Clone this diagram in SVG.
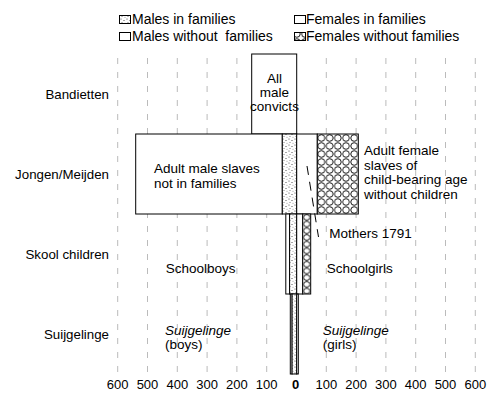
<svg xmlns="http://www.w3.org/2000/svg" width="490" height="396" viewBox="0 0 490 396">
<defs>
  <pattern id="dots" width="6" height="6" patternUnits="userSpaceOnUse">
    <rect width="6" height="6" fill="#fff"/>
    <circle cx="1" cy="1" r="0.55" fill="#333"/>
    <circle cx="4" cy="2.5" r="0.55" fill="#333"/>
    <circle cx="2" cy="4.5" r="0.5" fill="#555"/>
    <circle cx="5" cy="5.3" r="0.45" fill="#555"/>
  </pattern>
  <pattern id="circles" x="317.3" y="134" width="8.2" height="8" patternUnits="userSpaceOnUse">
    <rect width="8.2" height="8" fill="#fff"/>
    <ellipse cx="4.1" cy="4" rx="3.4" ry="3.3" fill="none" stroke="#000" stroke-width="0.9"/>
  </pattern>
  <pattern id="circlesSmall" x="302.7" y="214" width="8" height="6.7" patternUnits="userSpaceOnUse">
    <rect width="8" height="6.7" fill="#fff"/>
    <ellipse cx="4" cy="3.35" rx="3.2" ry="2.8" fill="none" stroke="#000" stroke-width="0.9"/>
  </pattern>
</defs>
<style>
  text { font-family: "Liberation Sans", Arial, sans-serif; fill: #000; }
  .leg { font-size: 14px; }
  .row { font-size: 13.3px; text-anchor: end; }
  .lbl { font-size: 13.5px; }
  .tick { font-size: 13px; text-anchor: middle; }
  .grid line { stroke: #bbb; stroke-width: 1; stroke-dasharray: 6 8; }
  .box { stroke: #000; stroke-width: 1; }
  .white { fill: #fff; }
</style>
<rect width="490" height="396" fill="#fff"/>

<g id="legend">
  <rect class="box" x="119.5" y="15.5" width="11" height="8" fill="url(#dots)"/>
  <text class="leg" x="132" y="24">Males in families</text>
  <rect class="box white" x="119.5" y="32.5" width="11" height="8"/>
  <text class="leg" x="132" y="40.5" xml:space="preserve">Males without  families</text>
  <rect class="box white" x="294.5" y="15.5" width="11" height="8"/>
  <text class="leg" x="306" y="24">Females in families</text>
  <rect class="box" x="294.5" y="32.5" width="11" height="8" fill="url(#circles)"/>
  <text class="leg" x="306" y="40.5">Females without families</text>
</g>

<g class="grid" id="grid">
  <line x1="117.7" y1="58" x2="117.7" y2="374"/>
  <line x1="147.5" y1="58" x2="147.5" y2="374"/>
  <line x1="177.3" y1="58" x2="177.3" y2="374"/>
  <line x1="207.1" y1="58" x2="207.1" y2="374"/>
  <line x1="236.9" y1="58" x2="236.9" y2="374"/>
  <line x1="266.7" y1="58" x2="266.7" y2="374"/>
  <line x1="326.3" y1="58" x2="326.3" y2="374"/>
  <line x1="356.1" y1="58" x2="356.1" y2="374"/>
  <line x1="385.9" y1="58" x2="385.9" y2="374"/>
  <line x1="415.7" y1="58" x2="415.7" y2="374"/>
  <line x1="445.5" y1="58" x2="445.5" y2="374"/>
  <line x1="475.3" y1="58" x2="475.3" y2="374"/>
</g>

<g id="row-labels">
  <text class="row" x="109" y="99">Bandietten</text>
  <text class="row" x="109" y="179">Jongen/Meijden</text>
  <text class="row" x="109" y="259">Skool children</text>
  <text class="row" x="109" y="339">Suijgelinge</text>
</g>

<g id="bandietten">
  <rect class="box white" x="251.7" y="54" width="45" height="80"/>
  <text class="lbl" x="274.5" y="83" text-anchor="middle">All</text>
  <text class="lbl" x="274.5" y="97" text-anchor="middle">male</text>
  <text class="lbl" x="274.5" y="111" text-anchor="middle">convicts</text>
</g>

<g id="jongen">
  <rect class="box white" x="135.7" y="134" width="146.6" height="80"/>
  <rect class="box" x="282.3" y="134" width="14.4" height="80" fill="url(#dots)"/>
  <rect class="box white" x="296.7" y="134" width="20.6" height="80"/>
  <rect class="box" x="317.3" y="134" width="41" height="80" fill="url(#circles)"/>
  <text class="lbl" x="154" y="173">Adult male slaves</text>
  <text class="lbl" x="154" y="187.5">not in families</text>
  <text class="lbl" x="364" y="155">Adult female</text>
  <text class="lbl" x="364" y="169.7">slaves of</text>
  <text class="lbl" x="364" y="184.3">child-bearing age</text>
  <text class="lbl" x="364" y="199">without children</text>
</g>

<g id="skool">
  <rect class="box white" x="285.8" y="214" width="3.8" height="80"/>
  <rect class="box" x="289.6" y="214" width="7.1" height="80" fill="url(#dots)"/>
  <rect class="box white" x="296.7" y="214" width="6" height="80"/>
  <rect class="box" x="302.7" y="214" width="8" height="80" fill="url(#circlesSmall)"/>
  <text class="lbl" x="165.7" y="273.3">Schoolboys</text>
  <text class="lbl" x="326.7" y="272.7">Schoolgirls</text>
  <text class="lbl" x="329.3" y="238.3">Mothers 1791</text>
</g>

<g id="suijgelinge">
  <rect class="box white" x="290.3" y="294" width="1.8" height="80"/>
  <rect class="box" x="292.1" y="294" width="4.6" height="80" fill="url(#dots)"/>
  <rect class="box white" x="296.7" y="294" width="1.6" height="80"/>
  <text class="lbl" x="165" y="335" font-style="italic">Suijgelinge</text>
  <text class="lbl" x="165" y="348.5">(boys)</text>
  <text class="lbl" x="322.7" y="334.5" font-style="italic">Suijgelinge</text>
  <text class="lbl" x="322.7" y="348.5">(girls)</text>
</g>

<g id="connectors">
  <line x1="307" y1="166" x2="318.5" y2="237" stroke="#000" stroke-width="1" stroke-dasharray="9 7"/>
</g>

<g id="axis">
  <text class="tick" x="117.7" y="389">600</text>
  <text class="tick" x="147.5" y="389">500</text>
  <text class="tick" x="177.3" y="389">400</text>
  <text class="tick" x="207.1" y="389">300</text>
  <text class="tick" x="236.9" y="389">200</text>
  <text class="tick" x="266.7" y="389">100</text>
  <text class="tick" x="295.5" y="389" font-weight="bold">0</text>
  <text class="tick" x="326.3" y="389">100</text>
  <text class="tick" x="356.1" y="389">200</text>
  <text class="tick" x="385.9" y="389">300</text>
  <text class="tick" x="415.7" y="389">400</text>
  <text class="tick" x="445.5" y="389">500</text>
  <text class="tick" x="475.3" y="389">600</text>
</g>
</svg>
